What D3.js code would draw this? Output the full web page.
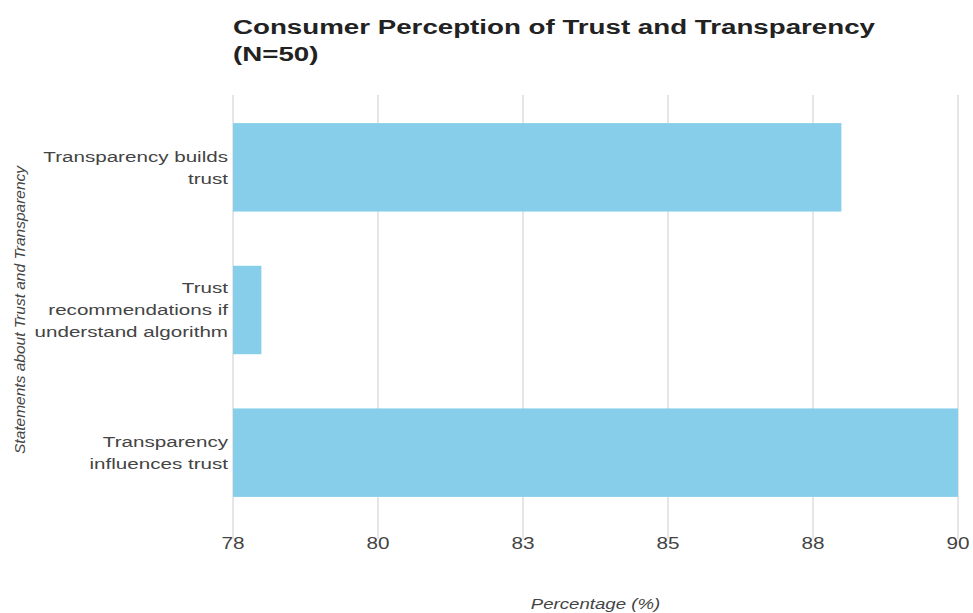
<!DOCTYPE html>
<html>
<head>
<meta charset="utf-8">
<script src="https://cdn.jsdelivr.net/npm/d3@7"></script>
<style>
  body { margin: 0; background: #fff; }
  text { font-family: "Liberation Sans", Arial, sans-serif; }
</style>
</head>
<body>
<div id="chart"></div>
<script>
// chart data
const statements = [
    "Transparency builds trust",
    "Trust recommendations if understand algorithm",
    "Transparency influences trust"
];
const percentages = [88.07, 78.47, 90];
const tickValues = [78, 80.4, 82.8, 85.2, 87.6, 90];

const width = 973;
const height = 613;
const margin = { top: 96, right: 15, bottom: 89, left: 233 };
// the reference text is a bit wider than normal Arial
const stretch = 1.33;

const svg = d3.select("#chart")
    .append("svg")
    .attr("width", width)
    .attr("height", height);

const x = d3.scaleLinear()
    .domain([78, 90])
    .range([margin.left, width - margin.right]);

const y = d3.scaleBand()
    .domain(statements)
    .range([margin.top, height - margin.bottom])
    .paddingInner(0.38)
    .paddingOuter(0.19);

function place(px, py, sx) {
    return `translate(${px},${py}) scale(${sx || stretch},1)`;
}

// gridlines + tick marks
svg.append("g")
    .selectAll("line")
    .data(tickValues)
    .enter().append("line")
    .attr("x1", d => x(d))
    .attr("x2", d => x(d))
    .attr("y1", margin.top - 1)
    .attr("y2", height - margin.bottom + 15)
    .style("stroke", "#cccccc")
    .style("stroke-width", "1px");

// bars
svg.append("g")
    .selectAll("rect")
    .data(statements)
    .enter().append("rect")
    .attr("x", x(78))
    .attr("y", d => y(d))
    .attr("width", (d, i) => x(percentages[i]) - x(78))
    .attr("height", y.bandwidth())
    .style("fill", "#87ceeb");

// x tick labels
svg.append("g")
    .selectAll("text")
    .data(tickValues)
    .enter().append("text")
    .attr("transform", d => place(x(d), 549, 1.22))
    .attr("text-anchor", "middle")
    .style("font-size", "17px")
    .style("fill", "#444")
    .text(d => d3.format(".0f")(d));

// y category labels, wrapped
const labels = svg.append("g")
    .selectAll("text")
    .data(statements)
    .enter().append("text")
    .attr("text-anchor", "end")
    .attr("transform", d => place(margin.left - 5, y(d) + y.bandwidth() / 2))
    .style("font-size", "15.5px")
    .style("fill", "#444");

labels.each(function(d) {
    const t = d3.select(this);
    const words = d.split(" ");
    const lines = [];
    let line = [];
    const probe = t.append("tspan");
    words.forEach(w => {
        line.push(w);
        probe.text(line.join(" "));
        if (probe.node().getComputedTextLength() * stretch > 200 && line.length > 1) {
            line.pop();
            lines.push(line.join(" "));
            line = [w];
        }
    });
    lines.push(line.join(" "));
    probe.remove();
    const lh = 22;
    lines.forEach((l, i) => {
        t.append("tspan")
            .attr("x", 0)
            .attr("y", -(lines.length - 1) * lh / 2 + i * lh)
            .attr("dy", "0.35em")
            .text(l);
    });
});

// title
svg.append("text")
    .attr("transform", place(margin.left, 34, 1.32))
    .style("font-size", "21px")
    .style("font-weight", "bold")
    .style("fill", "#222")
    .text("Consumer Perception of Trust and Transparency");
svg.append("text")
    .attr("transform", place(margin.left, 61, 1.32))
    .style("font-size", "21px")
    .style("font-weight", "bold")
    .style("fill", "#222")
    .text("(N=50)");

// axis titles
svg.append("text")
    .attr("transform", place((margin.left + width - margin.right) / 2, 609))
    .attr("text-anchor", "middle")
    .style("font-size", "14px")
    .style("font-style", "italic")
    .style("fill", "#444")
    .text("Percentage (%)");

svg.append("text")
    .attr("transform", "translate(25," + (y.range()[0] + y.range()[1]) / 2 + ") rotate(-90)")
    .attr("text-anchor", "middle")
    .style("font-size", "15.5px")
    .style("font-style", "italic")
    .style("fill", "#444")
    .text("Statements about Trust and Transparency");
</script>
</body>
</html>
